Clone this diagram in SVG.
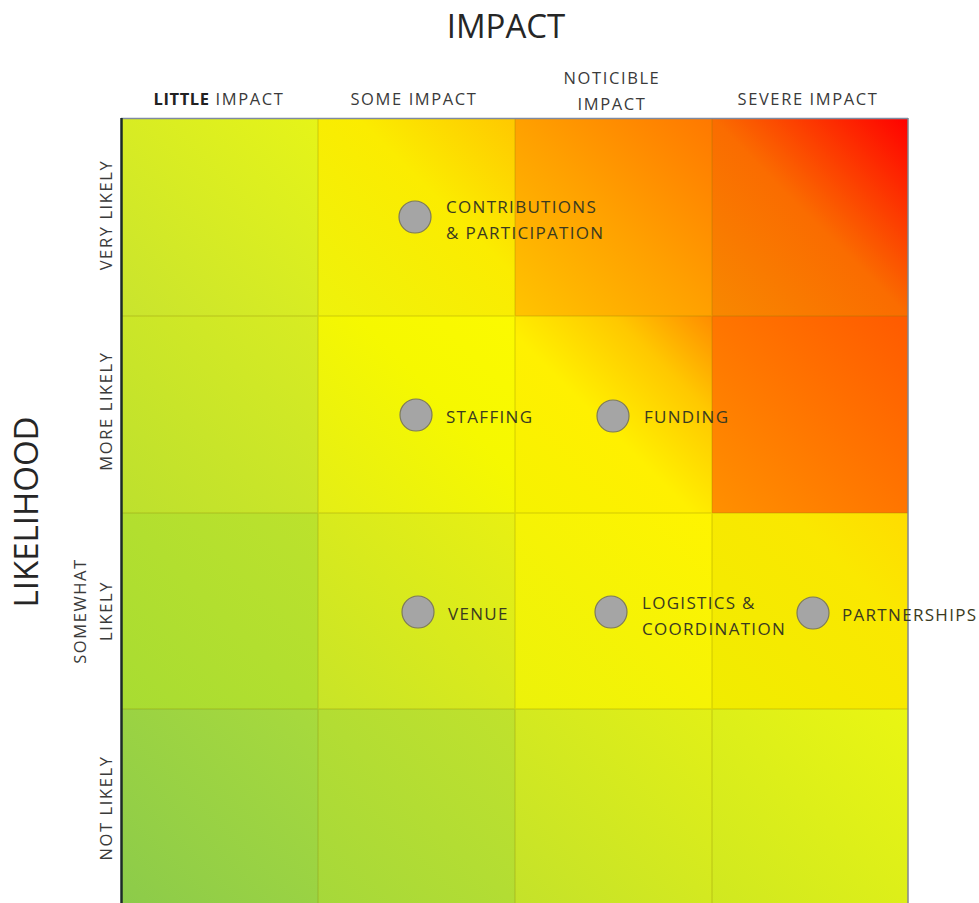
<svg xmlns="http://www.w3.org/2000/svg" width="979" height="903" viewBox="0 0 979 903">
  <style>
    .title { font-family: "Open Sans", "Liberation Sans", sans-serif; font-size: 33px; fill: #262626; }
    .hdr { font-family: "Open Sans", "Liberation Sans", sans-serif; font-size: 16.5px; fill: #3a3a3a; letter-spacing: 1.6px; }
    .lbl { font-family: "Open Sans", "Liberation Sans", sans-serif; font-size: 17px; fill: #3a3a20; letter-spacing: 1.3px; }
    .dot { fill: #a5a5a5; stroke: #7d7a5a; stroke-width: 1.2; }
    .grid { stroke: #8a7a00; stroke-opacity: 0.22; stroke-width: 1.5; fill: none; }
  </style>
  <defs>
    <!-- per-cell diagonal fills, bottom-left to top-right -->
    <linearGradient id="g00" x1="0" y1="1" x2="1" y2="0"><stop offset="0" stop-color="#c9e42e"/><stop offset="1" stop-color="#e6f418"/></linearGradient>
    <linearGradient id="g01" x1="0" y1="1" x2="1" y2="0"><stop offset="0" stop-color="#eef20c"/><stop offset="0.6" stop-color="#fbec00"/><stop offset="1" stop-color="#ffc800"/></linearGradient>
    <linearGradient id="g02" x1="0" y1="1" x2="1" y2="0"><stop offset="0" stop-color="#ffc400"/><stop offset="0.5" stop-color="#ffa000"/><stop offset="1" stop-color="#ff7800"/></linearGradient>
    <linearGradient id="g03" x1="0" y1="1" x2="1" y2="0"><stop offset="0" stop-color="#f88800"/><stop offset="0.5" stop-color="#fa6c00"/><stop offset="1" stop-color="#ff0000"/></linearGradient>

    <linearGradient id="g10" x1="0" y1="1" x2="1" y2="0"><stop offset="0" stop-color="#bde02e"/><stop offset="1" stop-color="#d8ec22"/></linearGradient>
    <linearGradient id="g11" x1="0" y1="1" x2="1" y2="0"><stop offset="0" stop-color="#e4ee16"/><stop offset="0.6" stop-color="#f6f800"/><stop offset="1" stop-color="#fcfa00"/></linearGradient>
    <linearGradient id="g12" x1="0" y1="1" x2="1" y2="0"><stop offset="0" stop-color="#f6f200"/><stop offset="0.45" stop-color="#fff000"/><stop offset="0.75" stop-color="#ffc800"/><stop offset="1" stop-color="#ff8c00"/></linearGradient>
    <linearGradient id="g13" x1="0" y1="1" x2="1" y2="0"><stop offset="0" stop-color="#ff9000"/><stop offset="1" stop-color="#ff5a00"/></linearGradient>

    <linearGradient id="g20" x1="0" y1="1" x2="1" y2="0"><stop offset="0" stop-color="#a8dc32"/><stop offset="1" stop-color="#bce22c"/></linearGradient>
    <linearGradient id="g21" x1="0" y1="1" x2="1" y2="0"><stop offset="0" stop-color="#c8e428"/><stop offset="1" stop-color="#e8f012"/></linearGradient>
    <linearGradient id="g22" x1="0" y1="1" x2="1" y2="0"><stop offset="0" stop-color="#ecf20a"/><stop offset="1" stop-color="#fff400"/></linearGradient>
    <linearGradient id="g23" x1="0" y1="1" x2="1" y2="0"><stop offset="0" stop-color="#f0ec00"/><stop offset="0.7" stop-color="#fae800"/><stop offset="1" stop-color="#ffdc00"/></linearGradient>

    <linearGradient id="g30" x1="0" y1="1" x2="1" y2="0"><stop offset="0" stop-color="#8ccb4a"/><stop offset="1" stop-color="#a8da3c"/></linearGradient>
    <linearGradient id="g31" x1="0" y1="1" x2="1" y2="0"><stop offset="0" stop-color="#a6d83a"/><stop offset="1" stop-color="#c0e22c"/></linearGradient>
    <linearGradient id="g32" x1="0" y1="1" x2="1" y2="0"><stop offset="0" stop-color="#c4e22a"/><stop offset="1" stop-color="#e2f016"/></linearGradient>
    <linearGradient id="g33" x1="0" y1="1" x2="1" y2="0"><stop offset="0" stop-color="#d0e820"/><stop offset="1" stop-color="#eaf612"/></linearGradient>
  </defs>

  <rect width="979" height="903" fill="#ffffff"/>

  <!-- heat map cells -->
  <g id="matrix">
    <rect x="121" y="118" width="197" height="198" fill="url(#g00)"/>
    <rect x="318" y="118" width="197" height="198" fill="url(#g01)"/>
    <rect x="515" y="118" width="197" height="198" fill="url(#g02)"/>
    <rect x="712" y="118" width="196" height="198" fill="url(#g03)"/>

    <rect x="121" y="316" width="197" height="197" fill="url(#g10)"/>
    <rect x="318" y="316" width="197" height="197" fill="url(#g11)"/>
    <rect x="515" y="316" width="197" height="197" fill="url(#g12)"/>
    <rect x="712" y="316" width="196" height="197" fill="url(#g13)"/>

    <rect x="121" y="513" width="197" height="196" fill="url(#g20)"/>
    <rect x="318" y="513" width="197" height="196" fill="url(#g21)"/>
    <rect x="515" y="513" width="197" height="196" fill="url(#g22)"/>
    <rect x="712" y="513" width="196" height="196" fill="url(#g23)"/>

    <rect x="121" y="709" width="197" height="194" fill="url(#g30)"/>
    <rect x="318" y="709" width="197" height="194" fill="url(#g31)"/>
    <rect x="515" y="709" width="197" height="194" fill="url(#g32)"/>
    <rect x="712" y="709" width="196" height="194" fill="url(#g33)"/>

    <path class="grid" d="M318,118 V903 M515,118 V903 M712,118 V903 M121,316 H908 M121,513 H908 M121,709 H908"/>
    <line x1="121" y1="118.5" x2="908" y2="118.5" stroke="#7f8aa0" stroke-width="1.5"/>
    <line x1="908" y1="118" x2="908" y2="903" stroke="#808690" stroke-width="1.5"/>
    <line x1="121.5" y1="118" x2="121.5" y2="903" stroke="#1c2a28" stroke-width="2.5"/>
  </g>

  <!-- axis titles -->
  <text class="title" x="506" y="38" text-anchor="middle">IMPACT</text>
  <text class="title" transform="translate(38,512) rotate(-90)" text-anchor="middle">LIKELIHOOD</text>

  <!-- impact column headers -->
  <g id="impact-headers">
    <text class="hdr" x="219" y="105" text-anchor="middle"><tspan font-weight="bold" fill="#222" letter-spacing="0.6">LITTLE</tspan> IMPACT</text>
    <text class="hdr" x="414" y="105" text-anchor="middle">SOME IMPACT</text>
    <text class="hdr" x="612" y="84" text-anchor="middle">NOTICIBLE</text>
    <text class="hdr" x="612" y="110" text-anchor="middle">IMPACT</text>
    <text class="hdr" x="808" y="105" text-anchor="middle">SEVERE IMPACT</text>
  </g>

  <!-- likelihood row headers -->
  <g id="likelihood-headers">
    <text class="hdr" transform="translate(112,215) rotate(-90)" text-anchor="middle">VERY LIKELY</text>
    <text class="hdr" transform="translate(112,411) rotate(-90)" text-anchor="middle">MORE LIKELY</text>
    <text class="hdr" transform="translate(86,611) rotate(-90)" text-anchor="middle">SOMEWHAT</text>
    <text class="hdr" transform="translate(112,611) rotate(-90)" text-anchor="middle">LIKELY</text>
    <text class="hdr" transform="translate(112,808) rotate(-90)" text-anchor="middle">NOT LIKELY</text>
  </g>

  <!-- risk items -->
  <g id="contributions">
    <circle class="dot" cx="415" cy="217" r="16"/>
    <text class="lbl" x="446" y="213">CONTRIBUTIONS</text>
    <text class="lbl" x="446" y="239">&amp; PARTICIPATION</text>
  </g>
  <g id="staffing">
    <circle class="dot" cx="416" cy="415" r="16"/>
    <text class="lbl" x="446" y="423">STAFFING</text>
  </g>
  <g id="funding">
    <circle class="dot" cx="613" cy="416" r="16"/>
    <text class="lbl" x="644" y="423">FUNDING</text>
  </g>
  <g id="venue">
    <circle class="dot" cx="418" cy="612" r="16"/>
    <text class="lbl" x="448" y="620">VENUE</text>
  </g>
  <g id="logistics">
    <circle class="dot" cx="611" cy="612" r="16"/>
    <text class="lbl" x="642" y="609">LOGISTICS &amp;</text>
    <text class="lbl" x="642" y="635">COORDINATION</text>
  </g>
  <g id="partnerships">
    <circle class="dot" cx="813" cy="613" r="16"/>
    <text class="lbl" x="842" y="621">PARTNERSHIPS</text>
  </g>
</svg>
